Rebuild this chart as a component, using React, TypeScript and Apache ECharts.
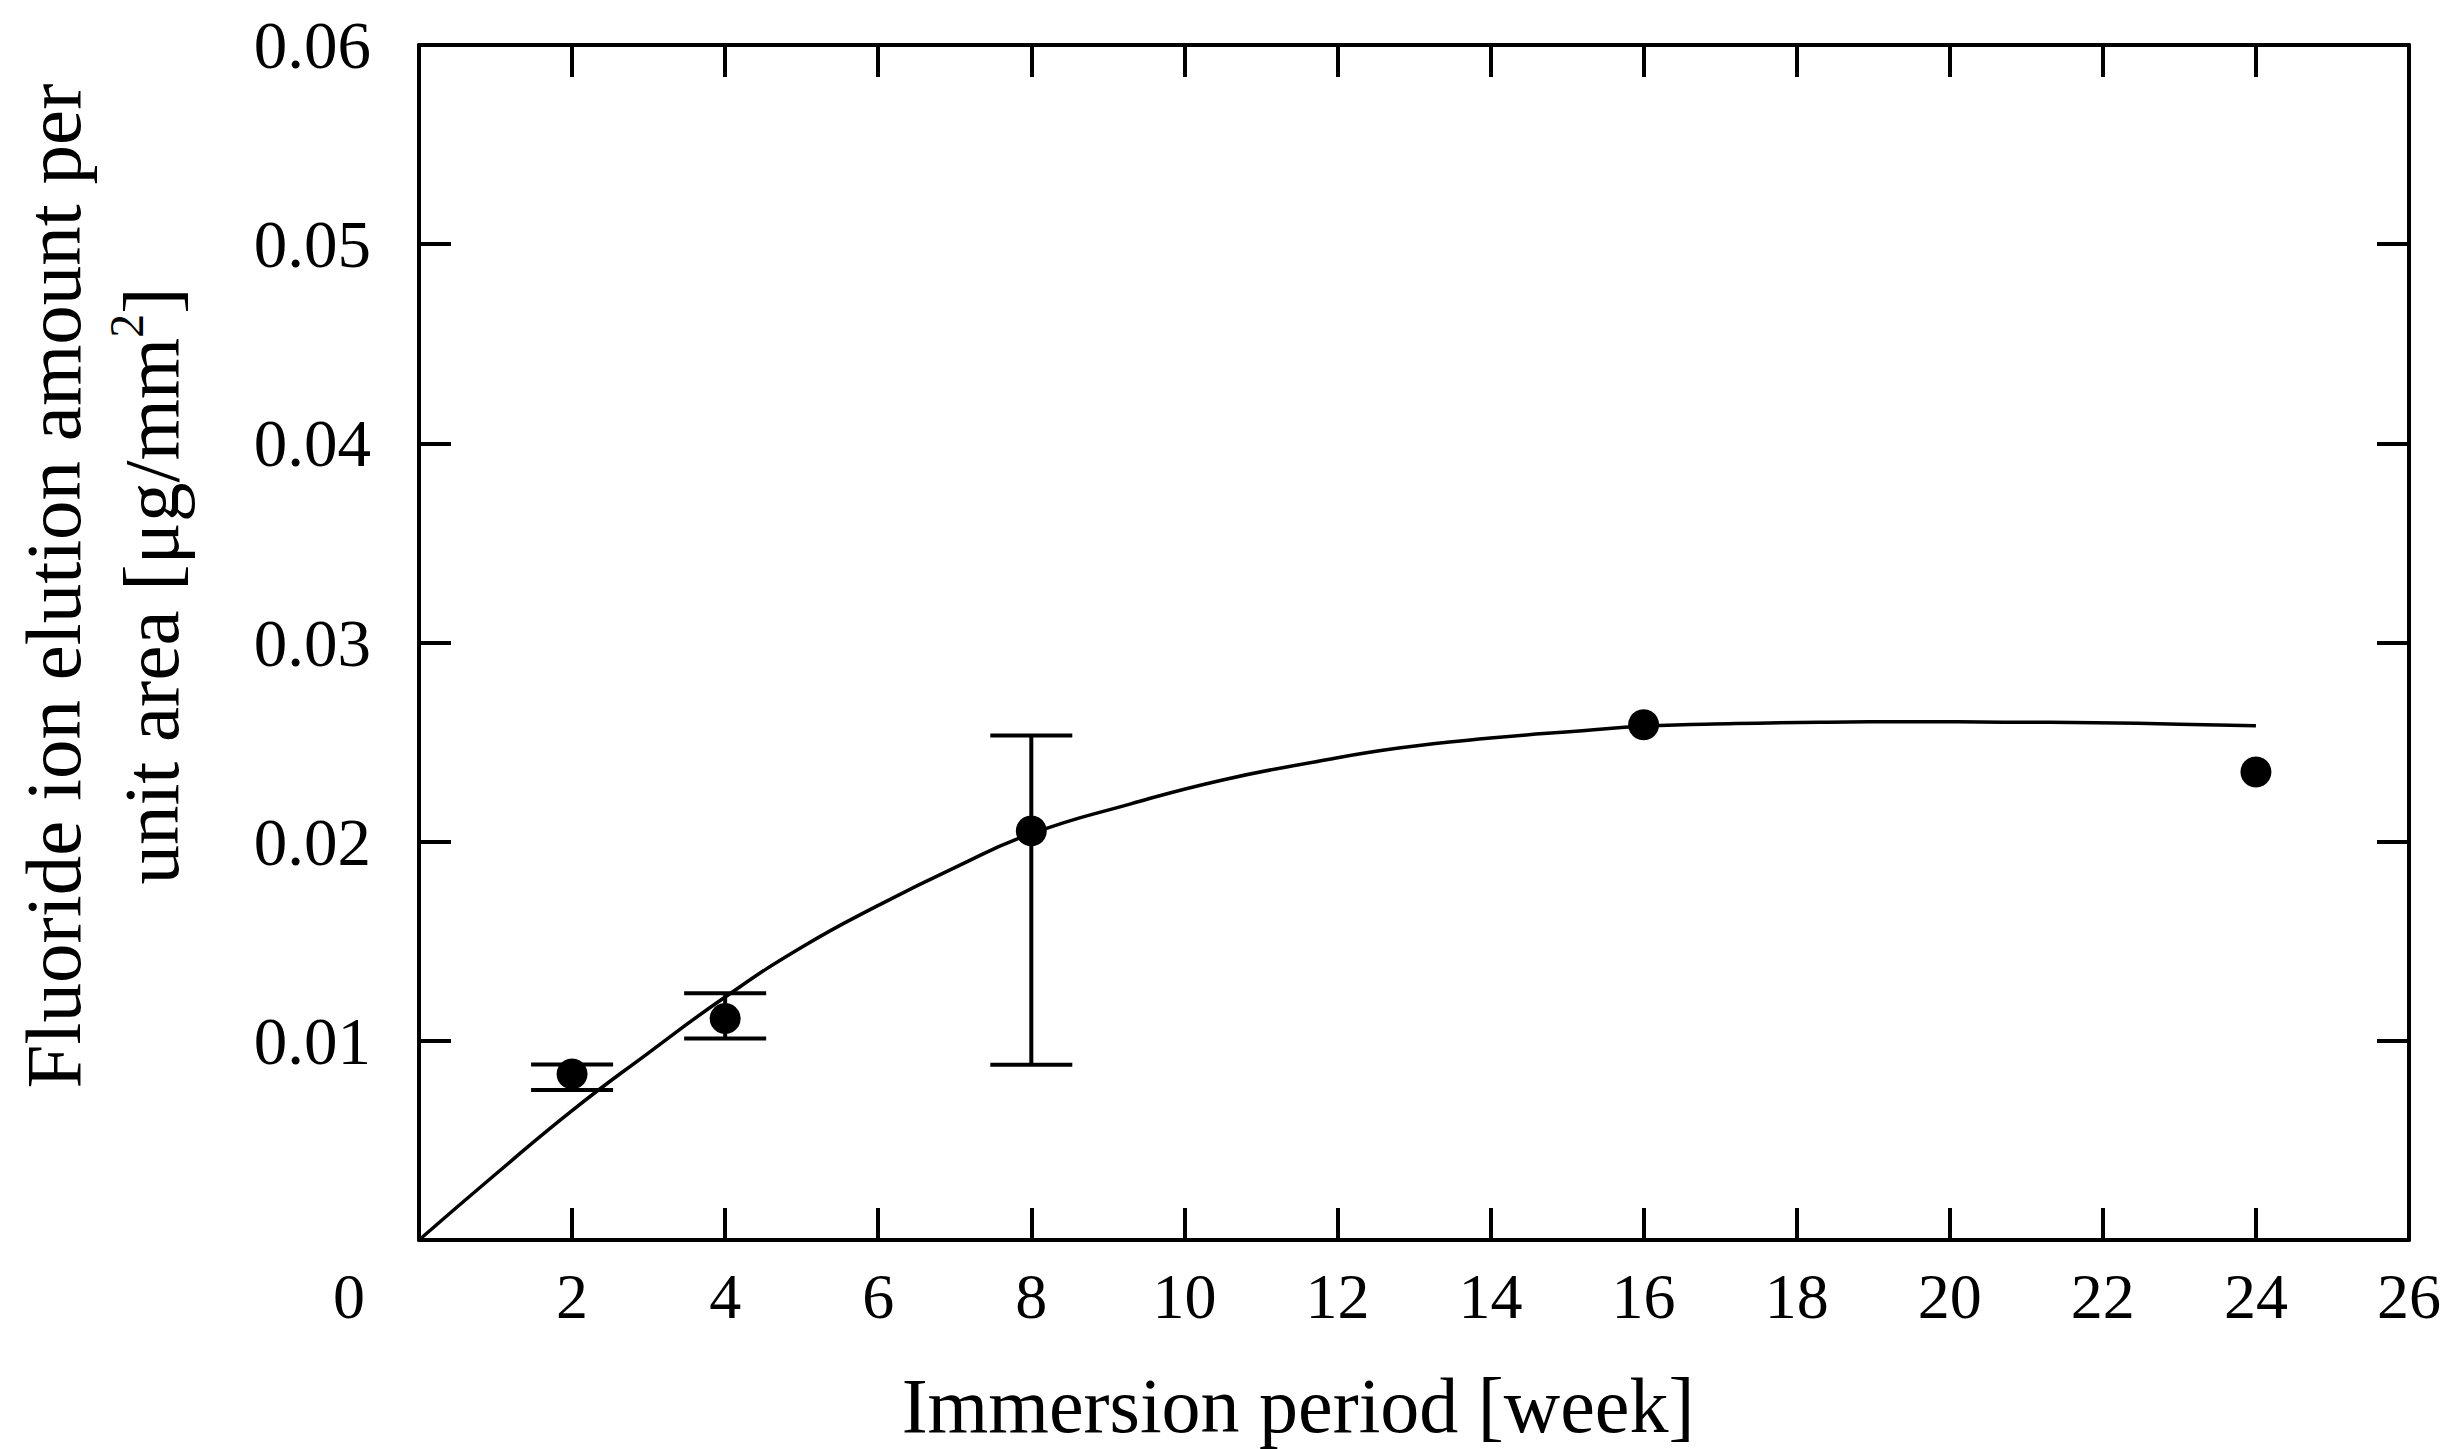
import React, { useEffect, useRef } from "react";
import * as echarts from "echarts";

// Measured points (week, amount)
const weeks = [2, 4, 8, 16, 24];
const amounts = [0.00834, 0.01112, 0.02054, 0.02587, 0.0235];

// Error bars (only where visible)
const errWeeks = [2, 4, 8];
const errLow = [0.00753, 0.01012, 0.0088];
const errHigh = [0.00881, 0.01239, 0.02533];

// Fitted curve
const fitWeeks = [0, 1, 2, 3, 4, 5, 6, 7, 8, 9.3, 10.5, 11.7, 12.8, 14, 15.2, 16, 17.2, 18.4, 19.5, 20.7, 21.9, 23, 24];
const fitValues = [0, 0.0033, 0.0065, 0.0094, 0.0122, 0.0147, 0.0168, 0.0187, 0.0204, 0.0219, 0.0231, 0.024, 0.0247, 0.0252, 0.02557, 0.0258, 0.02593, 0.026, 0.02602, 0.026, 0.02597, 0.0259, 0.02582];

const xTicks = { min: 0, max: 26, interval: 2 };
const yTicks = { min: 0, max: 0.06, interval: 0.01 };

const FONT = "Liberation Serif";

export default function App() {
  const ref = useRef<HTMLDivElement>(null);

  useEffect(() => {
    if (!ref.current) return;
    const chart = echarts.init(ref.current, undefined, { renderer: "svg" });

    const axisLine = { show: true, onZero: false, lineStyle: { color: "#000", width: 4 } };
    const tick = { show: true, inside: true, length: 32, lineStyle: { color: "#000", width: 4 } };

    const option: any = {
      animation: false,
      backgroundColor: "#fff",
      grid: { left: 419, top: 45, right: 40, bottom: 207, containLabel: false },
      xAxis: [
        {
          type: "value",
          ...xTicks,
          position: "bottom",
          axisLine,
          axisTick: tick,
          splitLine: { show: false },
          axisLabel: {
            color: "#000",
            fontFamily: FONT,
            fontSize: 64,
            margin: 24,
            formatter: (v: number) => (v === 0 ? "{zero|0}" : String(v)),
            rich: { zero: { fontFamily: FONT, fontSize: 64, color: "#000", padding: [0, 140, 0, 0] } },
          },
          name: "Immersion period [week]",
          nameLocation: "middle",
          nameGap: 126,
          nameTextStyle: { color: "#000", fontFamily: FONT, fontSize: 78, padding: [0, 232, 0, 0] },
        },
        {
          type: "value",
          ...xTicks,
          position: "top",
          axisLine,
          axisTick: tick,
          splitLine: { show: false },
          axisLabel: { show: false },
        },
      ],
      yAxis: [
        {
          type: "value",
          ...yTicks,
          position: "left",
          axisLine,
          axisTick: tick,
          splitLine: { show: false },
          axisLabel: {
            color: "#000",
            fontFamily: FONT,
            fontSize: 67,
            margin: 48,
            formatter: (v: number) => (v === 0 ? "" : v.toFixed(2)),
          },
        },
        {
          type: "value",
          ...yTicks,
          position: "right",
          axisLine,
          axisTick: tick,
          splitLine: { show: false },
          axisLabel: { show: false },
        },
      ],
      graphic: [
        {
          type: "text",
          x: 102,
          y: 586,
          rotation: Math.PI / 2,
          style: {
            text: "Fluoride ion elution amount per\nunit area [μg/mm{sup|2}]",
            fill: "#000",
            fontFamily: FONT,
            fontSize: 79,
            lineHeight: 98,
            align: "center",
            verticalAlign: "middle",
            rich: {
              sup: { fontFamily: FONT, fontSize: 48, fill: "#000", verticalAlign: "top", lineHeight: 98 },
            },
          },
        },
      ],
      series: [
        {
          type: "line",
          data: fitWeeks.map((w, i) => [w, fitValues[i]]),
          smooth: 0.5,
          showSymbol: false,
          symbol: "none",
          lineStyle: { color: "#000", width: 3.5 },
          z: 2,
        },
        {
          type: "custom",
          data: errWeeks.map((w, i) => [w, errLow[i], errHigh[i]]),
          encode: { x: 0, y: [1, 2] },
          z: 3,
          renderItem: (params: any, api: any) => {
            const x = api.value(0);
            const pLo = api.coord([x, api.value(1)]);
            const pHi = api.coord([x, api.value(2)]);
            const hw = 41;
            const style = { stroke: "#000", lineWidth: 4 };
            return {
              type: "group",
              children: [
                { type: "line", shape: { x1: pLo[0], y1: pLo[1], x2: pHi[0], y2: pHi[1] }, style },
                { type: "line", shape: { x1: pLo[0] - hw, y1: pLo[1], x2: pLo[0] + hw, y2: pLo[1] }, style },
                { type: "line", shape: { x1: pHi[0] - hw, y1: pHi[1], x2: pHi[0] + hw, y2: pHi[1] }, style },
              ],
            };
          },
        },
        {
          type: "scatter",
          data: weeks.map((w, i) => [w, amounts[i]]),
          symbol: "circle",
          symbolSize: 31,
          itemStyle: { color: "#000", opacity: 1 },
          z: 4,
        },
      ],
    };

    chart.setOption(option);
    return () => chart.dispose();
  }, []);

  return (
    <div
      ref={ref}
      style={{ position: "absolute", left: 0, top: 0, width: 2449, height: 1449, background: "#fff" }}
    />
  );
}
